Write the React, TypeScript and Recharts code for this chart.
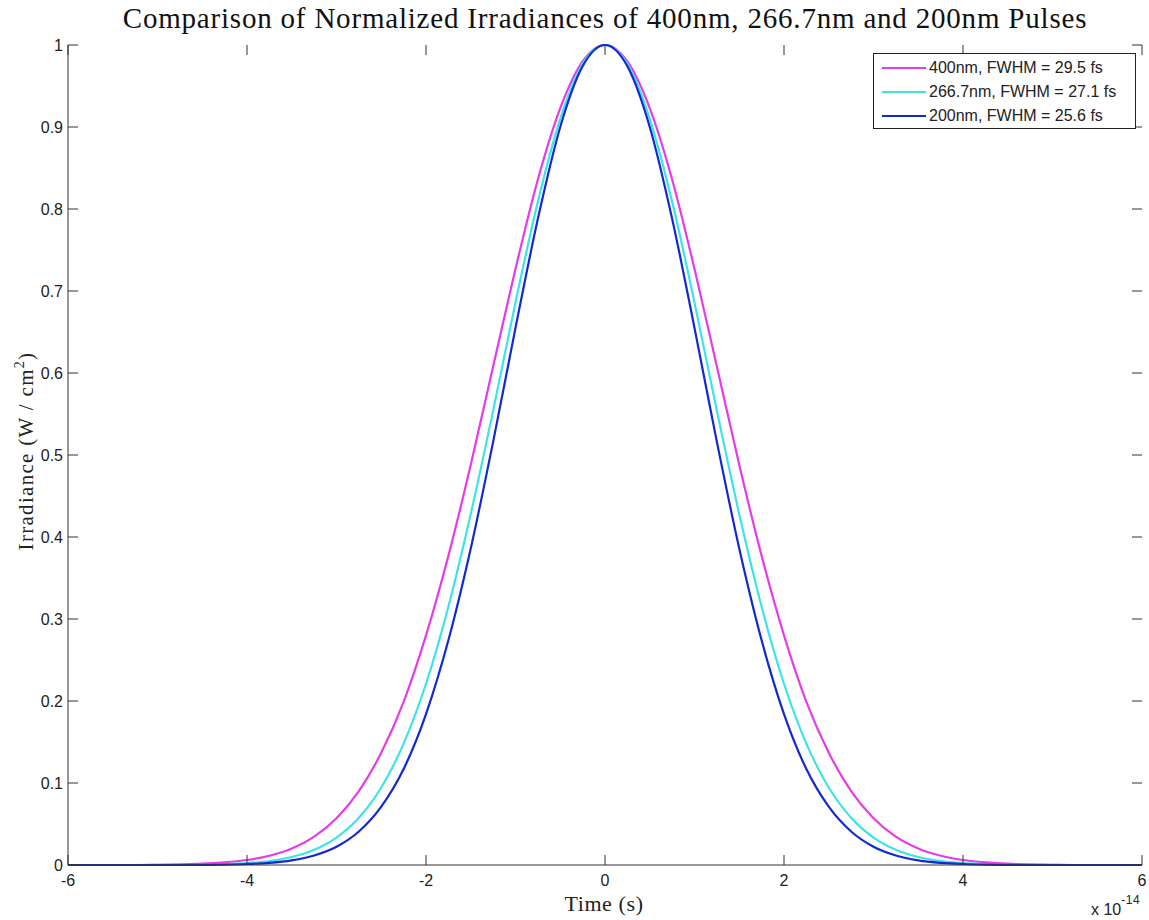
import { LineChart, Line, XAxis, YAxis, Legend } from 'recharts'

// time axis in units of 1e-14 s
const times = [
  -6, -5.75, -5.5, -5.25, -5, -4.75, -4.5, -4.25, -4, -3.75, -3.5, -3.25, -3, -2.75, -2.5, -2.25, -2, -1.75, -1.5, -1.25,
  -1, -0.75, -0.5, -0.25, 0, 0.25, 0.5, 0.75, 1, 1.25, 1.5, 1.75, 2, 2.25, 2.5, 2.75, 3, 3.25, 3.5, 3.75, 4, 4.25, 4.5,
  4.75, 5, 5.25, 5.5, 5.75, 6,
]

const pulse400 = [
  0, 0, 0, 0, 0.0003, 0.0008, 0.0016, 0.0032, 0.0061, 0.0113, 0.0202, 0.0346, 0.057, 0.09, 0.137, 0.199, 0.28, 0.377,
  0.488, 0.608, 0.727, 0.836, 0.923, 0.98, 1, 0.98, 0.923, 0.836, 0.727, 0.608, 0.488, 0.377, 0.28, 0.199, 0.137, 0.09,
  0.057, 0.0346, 0.0202, 0.0113, 0.0061, 0.0032, 0.0016, 0.0008, 0.0003, 0, 0, 0, 0,
]

const pulse267 = [
  0, 0, 0, 0, 0.0001, 0.0002, 0.0005, 0.0011, 0.0024, 0.0049, 0.0098, 0.0186, 0.0335, 0.0576, 0.0945, 0.148, 0.221,
  0.315, 0.428, 0.554, 0.686, 0.809, 0.91, 0.977, 1, 0.977, 0.91, 0.809, 0.686, 0.554, 0.428, 0.315, 0.221, 0.148,
  0.0945, 0.0576, 0.0335, 0.0186, 0.0098, 0.0049, 0.0024, 0.0011, 0.0005, 0.0002, 0.0001, 0, 0, 0, 0,
]

const pulse200 = [
  0, 0, 0, 0, 0, 0, 0.0002, 0.0005, 0.0012, 0.0026, 0.0056, 0.0115, 0.0222, 0.0408, 0.0711, 0.117, 0.184, 0.274, 0.386,
  0.516, 0.655, 0.788, 0.9, 0.974, 1, 0.974, 0.9, 0.788, 0.655, 0.516, 0.386, 0.274, 0.184, 0.117, 0.0711, 0.0408,
  0.0222, 0.0115, 0.0056, 0.0026, 0.0012, 0.0005, 0.0002, 0, 0, 0, 0, 0, 0,
]

const xTicks = [-6, -4, -2, 0, 2, 4, 6]
const yTicks = [0, 0.1, 0.2, 0.3, 0.4, 0.5, 0.6, 0.7, 0.8, 0.9, 1]

const series = [
  { key: 'p400', name: '400nm, FWHM = 29.5 fs', color: '#e63ce8' },
  { key: 'p267', name: '266.7nm, FWHM = 27.1 fs', color: '#3ce4e6' },
  { key: 'p200', name: '200nm, FWHM = 25.6 fs', color: '#1428d2' },
]

const data = times.map((t, i) => ({ t, p400: pulse400[i], p267: pulse267[i], p200: pulse200[i] }))

// plot box edges (layout only)
const LEFT = 68
const RIGHT = 1142
const TOP = 45
const BOTTOM = 865
const TICK = 10

const AXIS = '#333'
const SANS = '"Liberation Sans", Arial, sans-serif'
const SERIF = '"Liberation Serif", "DejaVu Serif", serif'

// MATLAB-style inward ticks, mirrored on the opposite side of the box
const BottomTick = (p: any) => (
  <g>
    <line x1={p.x} x2={p.x} y1={BOTTOM} y2={BOTTOM - TICK} stroke={AXIS} />
    <line x1={p.x} x2={p.x} y1={TOP} y2={TOP + TICK} stroke={AXIS} />
    <text x={p.x} y={BOTTOM + 21} textAnchor="middle" fontFamily={SANS} fontSize={16} fill="#222">
      {p.payload.value}
    </text>
  </g>
)
const LeftTick = (p: any) => (
  <g>
    <line x1={LEFT} x2={LEFT + TICK} y1={p.y} y2={p.y} stroke={AXIS} />
    <line x1={RIGHT} x2={RIGHT - TICK} y1={p.y} y2={p.y} stroke={AXIS} />
    <text x={LEFT - 5} y={p.y + 6} textAnchor="end" fontFamily={SANS} fontSize={16} fill="#222">
      {p.payload.value}
    </text>
  </g>
)

function LegendBox() {
  return (
    <div
      style={{
        border: '1px solid #222',
        background: '#fff',
        padding: '2px 4px 0 8px',
        fontFamily: SANS,
        fontSize: 16,
        color: '#222',
      }}
    >
      {series.map((s) => (
        <div key={s.key} style={{ display: 'flex', alignItems: 'center', height: 24 }}>
          <svg width={44} height={4} style={{ marginRight: 3 }}>
            <line x1={0} y1={2} x2={44} y2={2} stroke={s.color} strokeWidth={2} />
          </svg>
          {s.name}
        </div>
      ))}
    </div>
  )
}

export default function App() {
  return (
    <div style={{ position: 'absolute', left: 0, top: 0, width: 1149, height: 920, background: '#fff' }}>
      <div
        style={{
          position: 'absolute',
          left: LEFT,
          top: 1,
          width: RIGHT - LEFT,
          textAlign: 'center',
          fontFamily: SERIF,
          fontSize: 29,
          letterSpacing: 0.8,
          lineHeight: '34px',
          color: '#111',
          whiteSpace: 'nowrap',
        }}
      >
        Comparison of Normalized Irradiances of 400nm, 266.7nm and 200nm Pulses
      </div>
      <LineChart width={1149} height={920} data={data} margin={{ top: TOP, right: 1149 - RIGHT, left: 0, bottom: 0 }}>
        <XAxis
          dataKey="t"
          type="number"
          domain={[-6, 6]}
          ticks={xTicks}
          interval={0}
          height={920 - BOTTOM}
          tickLine={false}
          tick={BottomTick}
          axisLine={{ stroke: AXIS }}
          label={{
            content: () => (
              <g>
                <text x={604} y={911} textAnchor="middle" fontFamily={SERIF} fontSize={22} letterSpacing={0.6} fill="#222">
                  Time (s)
                </text>
                <text x={1091} y={915} fontFamily={SANS} fontSize={16} fill="#222">
                  x 10
                  <tspan dy={-11} fontSize={12} letterSpacing={0.5}>
                    -14
                  </tspan>
                </text>
              </g>
            ),
          }}
        />
        <XAxis
          xAxisId="top"
          orientation="top"
          dataKey="t"
          type="number"
          domain={[-6, 6]}
          height={0}
          tickLine={false}
          tick={false}
          axisLine={{ stroke: AXIS }}
        />
        <YAxis
          type="number"
          domain={[0, 1]}
          ticks={yTicks}
          interval={0}
          width={LEFT}
          tickLine={false}
          tick={LeftTick}
          axisLine={{ stroke: AXIS }}
          label={{
            content: () => (
              <text
                transform="translate(33,451) rotate(-90)"
                textAnchor="middle"
                fontFamily={SERIF}
                fontSize={21}
                letterSpacing={1.3}
                fill="#222"
              >
                Irradiance (W / cm
                <tspan dy={-9} fontSize={14}>
                  2
                </tspan>
                <tspan dy={9}>)</tspan>
              </text>
            ),
          }}
        />
        <YAxis
          yAxisId="right"
          orientation="right"
          type="number"
          domain={[0, 1]}
          width={0}
          tickLine={false}
          tick={false}
          axisLine={{ stroke: AXIS }}
        />
        <Legend
          layout="horizontal"
          verticalAlign="middle"
          align="center"
          wrapperStyle={{ top: 53, left: 873, width: 263 }}
          content={() => <LegendBox />}
        />
        {series.map((s) => (
          <Line
            key={s.key}
            type="monotone"
            dataKey={s.key}
            name={s.name}
            stroke={s.color}
            strokeWidth={2.2}
            dot={false}
            activeDot={false}
            isAnimationActive={false}
          />
        ))}
      </LineChart>
    </div>
  )
}
